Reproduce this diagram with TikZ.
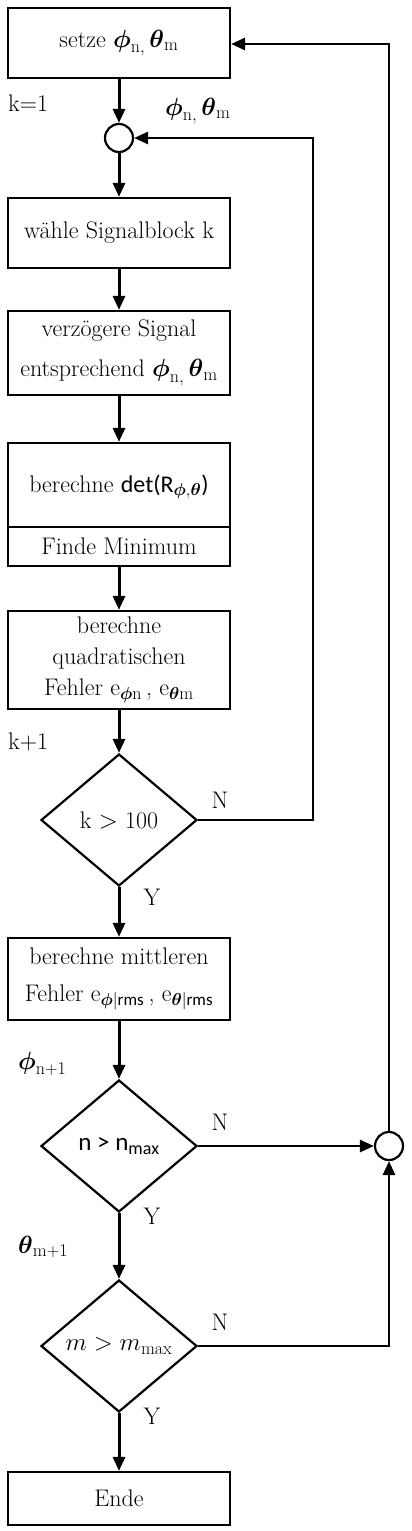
\documentclass[tikz,border=0pt]{standalone}
\usepackage{amsmath}
\usepackage{fontspec}
\newfontfamily\sansb{Carlito}
\DeclareMathSizes{24}{24}{18}{14}
\usetikzlibrary{shapes.geometric,arrows.meta,calc}
\newcommand{\bph}{\boldsymbol{\phi}}
\newcommand{\bth}{\boldsymbol{\theta}}
\begin{document}
\begin{tikzpicture}[x=1pt,y=-1pt,
  every node/.style={font=\fontsize{24}{31}\selectfont},
  box/.style={draw,line width=2.2pt,minimum width=222pt,align=center,inner sep=0pt},
  dia/.style={draw,diamond,line width=2.2pt,minimum width=156pt,minimum height=132pt,inner sep=0pt,aspect=1.18},
  junc/.style={draw,circle,line width=2.2pt,minimum size=28pt,inner sep=0pt},
  flow/.style={line width=3pt,-{Triangle[length=14pt,width=12pt]}},
  loop/.style={line width=2.7pt,-{Triangle[length=14pt,width=12pt]}},
  lbl/.style={inner sep=0pt}]
\useasboundingbox (0,0) rectangle (412,1531);
\node[box,minimum height=70pt] (b1) at (119,43) {setze $\bph_{\rm n,}\,\bth_{\rm m}$};
\node[junc] (c1) at (119,138) {};
\node[box,minimum height=70pt] (b2) at (119,233) {w\"ahle Signalblock k};
\node[box,minimum height=84pt,font=\fontsize{24}{40}\selectfont] (b3) at (119,353) {verz\"ogere Signal\\entsprechend $\bph_{\rm n,}\,\bth_{\rm m}$};
\node[box,minimum height=123pt] (b4) at (119,504.5) {};
\node at (119,487) {berechne {\sansb det(R}$_{\bph,\bth}${\sansb )}};
\node at (119,546) {Finde Minimum};
\draw[line width=2.2pt] (b4.west |- 0,527) -- (b4.east |- 0,527);
\node[box,minimum height=98pt,font=\fontsize{24}{31}\selectfont] (b5) at (119,660) {berechne\\quadratischen\\Fehler e$_{\bph{\rm n}}\,$, e$_{\bth{\rm m}}$};
\node[dia] (d1) at (119,820) {k $>$ 100};
\node[box,minimum height=82pt,font=\fontsize{24}{37}\selectfont] (b6) at (119,979) {berechne mittleren\\Fehler e$_{\bph|\mbox{\sansb\fontsize{17}{17}\selectfont rms}}\,$, e$_{\bth|\mbox{\sansb\fontsize{17}{17}\selectfont rms}}$};
\node[dia] (d2) at (119,1146) {{\sansb\fontsize{25}{30}\selectfont n > n}$_{\mbox{\sansb\fontsize{18}{18}\selectfont max}}$};
\node[junc] (c2) at (389,1146) {};
\node[dia] (d3) at (119,1346) {$m>m_{\rm max}$};
\node[box,minimum height=53pt] (b7) at (119,1498.5) {Ende};
% labels
\node[lbl,anchor=west] (l1) at (8,103) {k=1};
\node[lbl,anchor=west] (l2) at (165,111) {$\bph_{\rm n,}\,\bth_{\rm m}$};
\node[lbl,anchor=west] (l3) at (8,742) {k+1};
\node[lbl,anchor=west] (l4) at (18,1064) {$\bph_{\rm n+1}$};
\node[lbl,anchor=west] (l5) at (18,1247) {$\bth_{\rm m+1}$};
\node[lbl] (n1) at (220,800) {N};
\node[lbl] (y1) at (152,897) {Y};
\node[lbl] (n2) at (220,1122) {N};
\node[lbl] (y2) at (152,1216) {Y};
\node[lbl] (n3) at (220,1322) {N};
\node[lbl] (y3) at (152,1416) {Y};
% flow
\draw[flow] (b1) -- (c1);
\draw[flow] (c1) -- (b2);
\draw[flow] (b2) -- (b3);
\draw[flow] (b3) -- (b4);
\draw[flow] (b4) -- (b5);
\draw[flow] (b5) -- (d1);
\draw[flow] (d1) -- (b6);
\draw[flow] (b6) -- (d2);
\draw[flow] (d2) -- (d3);
\draw[flow] (d3) -- (b7);
% loops
\coordinate (k1) at (313,820);
\coordinate (k2) at (313,138);
\draw[loop] (d1.east) -- (k1) -- (k2) -- (c1.east);
\draw[loop] (d2.east) -- (c2.west);
\coordinate (k3) at (389,1346);
\draw[loop] (d3.east) -- (k3) -- (c2.south);
\coordinate (k4) at (389,44);
\draw[loop] (c2.north) -- (k4) -- (b1.east |- k4);
\end{tikzpicture}
\end{document}
